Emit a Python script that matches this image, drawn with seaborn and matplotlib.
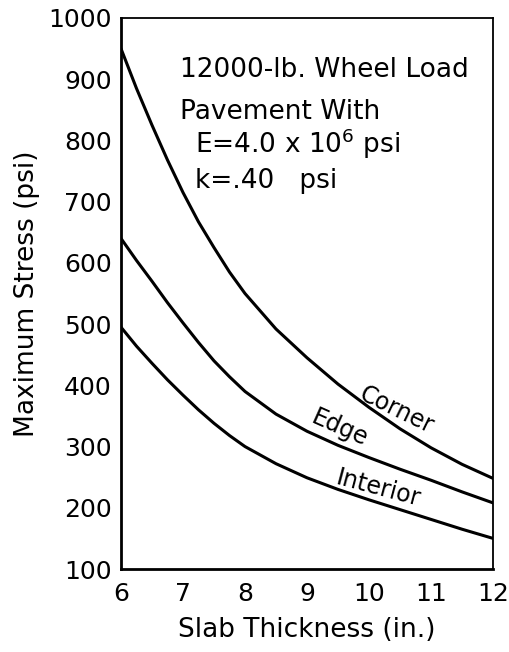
import pandas as pd
import matplotlib
matplotlib.use('Agg')
import matplotlib.pyplot as plt
import seaborn as sns

# values (stress in psi)
thickness = [6, 6.25, 6.5, 6.75, 7, 7.25, 7.5, 7.75, 8, 8.5, 9, 9.5, 10, 10.5, 11, 11.5, 12]
corner = [950, 885, 825, 768, 715, 667, 625, 585, 550, 492, 445, 402, 364, 329, 298, 271, 248]
edge = [640, 604, 570, 535, 502, 470, 440, 414, 390, 353, 325, 302, 282, 263, 245, 226, 208]
interior = [495, 464, 436, 409, 384, 360, 338, 318, 300, 272, 249, 230, 213, 197, 181, 165, 150]

x_ticks = [6, 7, 8, 9, 10, 11, 12]
y_ticks = [100, 200, 300, 400, 500, 600, 700, 800, 900, 1000]

n = len(thickness)
data = pd.DataFrame({
    'thickness': thickness * 3,
    'stress': corner + edge + interior,
    'case': ['Corner'] * n + ['Edge'] * n + ['Interior'] * n,
})

sns.set_style('white')
plt.rcParams['font.family'] = ['DejaVu Sans']
plt.rcParams['text.color'] = 'black'
plt.rcParams['axes.labelcolor'] = 'black'
plt.rcParams['xtick.color'] = 'black'
plt.rcParams['ytick.color'] = 'black'

fig = plt.figure(figsize=(5.09, 6.52), dpi=100)
ax = fig.add_axes([0.2377, 0.1273, 0.7309, 0.8451])

sns.lineplot(data=data, x='thickness', y='stress', units='case', estimator=None,
             color='black', linewidth=2.2, ax=ax, legend=False)

ax.set_xlim(6, 12)
ax.set_ylim(100, 1000)
ax.set_xticks(x_ticks)
ax.set_yticks(y_ticks)
ax.set_xticklabels([str(t) for t in x_ticks], fontsize=18)
ax.set_yticklabels([str(t) for t in y_ticks], fontsize=18)
ax.tick_params(direction='inout', length=9, width=1.5, color='black', pad=2)
ax.tick_params(axis='x', pad=5)

for side in ['left', 'bottom']:
    ax.spines[side].set_linewidth(2)
for side in ['top', 'right']:
    ax.spines[side].set_linewidth(1.3)
for s in ax.spines.values():
    s.set_color('black')

ax.set_xlabel('Slab Thickness (in.)', fontsize=19, labelpad=8)
ax.set_ylabel('Maximum Stress (psi)', fontsize=19, labelpad=6)

# curve labels
ax.text(10.45, 360, 'Corner', fontsize=17, rotation=-26, ha='center', va='center')
ax.text(9.53, 330, 'Edge', fontsize=17, rotation=-24, ha='center', va='center')
ax.text(10.15, 231, 'Interior', fontsize=17, rotation=-15, ha='center', va='center')

# notes
ax.text(6.95, 915, '12000-lb. Wheel Load', fontsize=19, ha='left', va='center')
ax.text(6.95, 846, 'Pavement With', fontsize=19, ha='left', va='center')
ax.text(7.19, 794, r'E=4.0 x 10$^6$ psi', fontsize=19, ha='left', va='center')
ax.text(7.19, 734, 'k=.40   psi', fontsize=19, ha='left', va='center')

fig.savefig('out.png', dpi=100)
